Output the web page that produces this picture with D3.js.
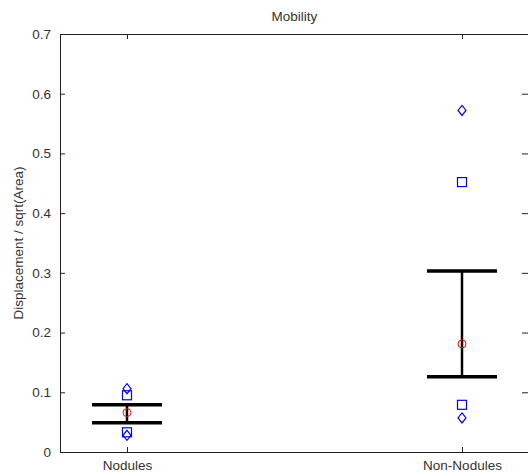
<!DOCTYPE html>
<html>
<head>
<meta charset="utf-8">
<script src="https://cdn.jsdelivr.net/npm/d3@7"></script>
<style>
  body { margin: 0; background: #fff; }
  text { font-family: "Liberation Sans", Arial, sans-serif; fill: #333; }
</style>
</head>
<body>
<div id="chart"></div>
<script>
// data
var categories = ["Nodules", "Non-Nodules"];
var meanValues = [0.066, 0.181];
var upperValues = [0.079, 0.303];
var lowerValues = [0.049, 0.126];
var squareValues = [[0.095, 0.033], [0.452, 0.079]];
var diamondValues = [[0.106, 0.028], [0.572, 0.057]];
var yTicks = [0, 0.1, 0.2, 0.3, 0.4, 0.5, 0.6, 0.7];

var width = 528, height = 474;
var plotLeft = 60, plotRight = 529, plotTop = 34, plotBottom = 452;

var svg = d3.select('#chart').append('svg')
    .attr('width', width)
    .attr('height', height);

var x = d3.scaleLinear().domain([0.8, 2.2]).range([plotLeft, plotRight]);
var y = d3.scaleLinear().domain([0, 0.7]).range([plotBottom, plotTop]);

// box
svg.append('rect')
    .attr('x', plotLeft + 0.5).attr('y', plotTop + 0.5)
    .attr('width', plotRight - plotLeft).attr('height', plotBottom - plotTop)
    .attr('fill', 'none')
    .attr('stroke', '#222')
    .attr('stroke-width', 1);

// axes with inward ticks
var yLeft = d3.axisLeft(y).tickValues(yTicks).tickSizeInner(-5).tickSizeOuter(0)
    .tickPadding(9).tickFormat(function(d) { return d === 0 ? '0' : d3.format('.1f')(d); });
svg.append('g').attr('class', 'yaxis').attr('transform', 'translate(' + plotLeft + ',0)').call(yLeft);

var yRight = d3.axisRight(y).tickValues(yTicks).tickSizeInner(-7).tickSizeOuter(0).tickFormat('');
svg.append('g').attr('class', 'yaxis').attr('transform', 'translate(' + plotRight + ',0)').call(yRight);

var xBottom = d3.axisBottom(x).tickValues([1, 2]).tickSizeInner(-5).tickSizeOuter(0)
    .tickPadding(8).tickFormat(function(d) { return categories[d - 1]; });
svg.append('g').attr('class', 'xaxis').attr('transform', 'translate(0,' + plotBottom + ')').call(xBottom);

var xTop = d3.axisTop(x).tickValues([1, 2]).tickSizeInner(-5).tickSizeOuter(0).tickFormat('');
svg.append('g').attr('class', 'xaxis').attr('transform', 'translate(0,' + plotTop + ')').call(xTop);

svg.selectAll('.yaxis .domain, .xaxis .domain').remove();
svg.selectAll('.tick line').attr('stroke', '#222');
svg.selectAll('.tick text').style('font-size', '13.5px').attr('fill', '#333');

// title and y label
svg.append('text')
    .attr('x', (plotLeft + plotRight) / 2)
    .attr('y', 21)
    .attr('text-anchor', 'middle')
    .style('font-size', '13.5px')
    .text('Mobility');

svg.append('text')
    .attr('transform', 'translate(23,' + ((plotTop + plotBottom) / 2) + ') rotate(-90)')
    .attr('text-anchor', 'middle')
    .style('font-size', '13.5px')
    .text('Displacement / sqrt(Area)');

// error bars
var capHalf = 35;
var groups = svg.selectAll('.grp').data(categories).enter().append('g').attr('class', 'grp');

groups.append('line')
    .attr('x1', function(d, i) { return x(i + 1); })
    .attr('x2', function(d, i) { return x(i + 1); })
    .attr('y1', function(d, i) { return y(upperValues[i]); })
    .attr('y2', function(d, i) { return y(lowerValues[i]); })
    .attr('stroke', '#000').attr('stroke-width', 2.5);

groups.selectAll('.cap').data(function(d, i) {
    return [{i: i, v: upperValues[i]}, {i: i, v: lowerValues[i]}];
  }).enter().append('line')
    .attr('x1', function(d) { return x(d.i + 1) - capHalf; })
    .attr('x2', function(d) { return x(d.i + 1) + capHalf; })
    .attr('y1', function(d) { return y(d.v); })
    .attr('y2', function(d) { return y(d.v); })
    .attr('stroke', '#000').attr('stroke-width', 3.5);

// mean circles
groups.append('circle')
    .attr('cx', function(d, i) { return x(i + 1); })
    .attr('cy', function(d, i) { return y(meanValues[i]); })
    .attr('r', 4)
    .attr('fill', 'none')
    .attr('stroke', '#ff0000').attr('stroke-width', 1);

// squares
groups.selectAll('.sq').data(function(d, i) {
    return squareValues[i].map(function(v) { return {i: i, v: v}; });
  }).enter().append('rect')
    .attr('x', function(d) { return x(d.i + 1) - 4.5; })
    .attr('y', function(d) { return y(d.v) - 4.5; })
    .attr('width', 9).attr('height', 9)
    .attr('fill', 'none')
    .attr('stroke', '#0000ff').attr('stroke-width', 1.2);

// diamonds
groups.selectAll('.dm').data(function(d, i) {
    return diamondValues[i].map(function(v) { return {i: i, v: v}; });
  }).enter().append('path')
    .attr('transform', function(d) { return 'translate(' + x(d.i + 1) + ',' + y(d.v) + ')'; })
    .attr('d', 'M0,-5 L4,0 L0,5 L-4,0 Z')
    .attr('fill', 'none')
    .attr('stroke', '#0000ff').attr('stroke-width', 1.2);
</script>
</body>
</html>
